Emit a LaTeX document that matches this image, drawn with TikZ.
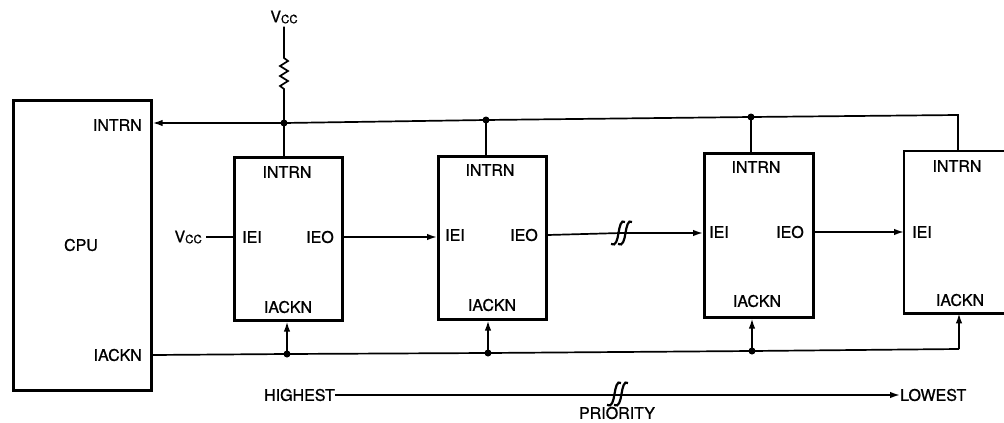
\documentclass[tikz,border=0pt]{standalone}
\usepackage{fontspec}
\setmainfont{TeX Gyre Heros}
\newfontfamily\lblfont{TeX Gyre Heros}[FakeBold=0.9]
\usetikzlibrary{arrows.meta}
\newcommand{\vccsym}{V\raisebox{-1pt}{\fontsize{11.5}{12}\selectfont CC}}
\begin{document}
\begin{tikzpicture}[x=1pt,y=-1pt,
  box/.style={draw, line width=2.6pt, inner sep=0pt, anchor=north west},
  boxline/.style={line width=2.6pt},
  lbl/.style={inner sep=0pt, font=\lblfont\fontsize{16}{18}\selectfont},
  wire/.style={line width=1.7pt},
  arr/.style={wire, -{Latex[length=10pt,width=6.5pt]}},
  dot/.style={circle, fill, inner sep=0pt, minimum size=7pt},
  brk/.pic={
    \draw[line width=2.2pt] (-10,11) .. controls (-5,14) and (-3.5,6) .. (-2.5,0) .. controls (-1.5,-6) and (0,-14) .. (4,-11);
    \draw[line width=2.2pt] (-3,11) .. controls (2,14) and (3.5,6) .. (4.5,0) .. controls (5.5,-6) and (7,-14) .. (11,-11);
  }]
\useasboundingbox (0,0) rectangle (1004,423);
\fill[white] (0,0) rectangle (1004,423);

% boxes
\node[box, minimum width=138pt, minimum height=290pt] (cpu) at (12,99) {};
\node[box, minimum width=108pt, minimum height=163pt] (b1) at (233,156) {};
\node[box, minimum width=108pt, minimum height=163pt] (b2) at (437,155) {};
\node[box, minimum width=109pt, minimum height=164pt] (b3) at (703,152) {};
\node[inner sep=0pt, anchor=north west, minimum width=100pt, minimum height=162pt] (b4) at (904,151) {};
\draw[boxline] (b4.north east) -- (b4.north west) -- (b4.south west) -- (b4.south east);

% labels
\node[lbl] (cpulbl) at (81,245) {CPU};
\node[lbl, anchor=east] (cpuint) at (142,125) {INTRN};
\node[lbl, anchor=east] (cpuiack) at (142,355) {IACKN};

\node[lbl] (b1int) at (287,172) {INTRN};
\node[lbl] (b1iei) at (252,237) {IEI};
\node[lbl] (b1ieo) at (320,237) {IEO};
\node[lbl] (b1iack) at (288,307) {IACKN};

\node[lbl] (b2int) at (490,170) {INTRN};
\node[lbl] (b2iei) at (455,235) {IEI};
\node[lbl] (b2ieo) at (524,235) {IEO};
\node[lbl] (b2iack) at (492,305) {IACKN};

\node[lbl] (b3int) at (756,167) {INTRN};
\node[lbl] (b3iei) at (719,232) {IEI};
\node[lbl] (b3ieo) at (790,232) {IEO};
\node[lbl] (b3iack) at (757,301) {IACKN};

\node[lbl] (b4int) at (957,166) {INTRN};
\node[lbl] (b4iei) at (922,232) {IEI};
\node[lbl] (b4iack) at (960,300) {IACKN};

% Vcc and resistor
\node[lbl] (vcctop) at (284,17) {\vccsym};
\coordinate (r1) at (284,58);
\coordinate (r2) at (284,89);
\coordinate (j1) at (284,123);
\coordinate (j2) at (486,120);
\coordinate (j3) at (751,117);
\coordinate (c4) at (958,115);
\draw[wire] (vcctop.south) ++(0,3) -- (r1) -- ++(4,3) -- ++(-8,5) -- ++(8,5) -- ++(-8,5) -- ++(8,5) -- ++(-8,5) -- (r2) -- (j1);

% INTRN bus
\draw[arr] (j1) -- (cpu.east |- j1);
\draw[wire] (j1) -- (j2) -- (j3) -- (c4) -- (c4 |- b4.north);
\draw[wire] (j1) -- (j1 |- b1.north);
\draw[wire] (j2) -- (j2 |- b2.north);
\draw[wire] (j3) -- (j3 |- b3.north);
\node[dot] at (j1) {};
\node[dot] at (j2) {};
\node[dot] at (j3) {};

% Vcc to IEI
\node[lbl, anchor=east] (vccin) at (202,237) {\vccsym};
\draw[wire] (vccin.east) ++(4,0) -- (b1.west |- vccin);

% daisy chain
\draw[arr] (b1.east |- b1ieo) -- (b2.west |- b1ieo);
\coordinate (brk1) at (621,233);
\draw[wire] (b2.east |- b2ieo) -- (brk1);
\draw[arr] (brk1) -- (b3.west |- brk1);
\pic at (brk1) {brk};
\draw[arr] (b3.east |- b3ieo) -- (b4.west |- b3ieo);

% IACKN bus
\coordinate (k1) at (287,354);
\coordinate (k2) at (488,353);
\coordinate (k3) at (752,351);
\coordinate (k4) at (959,349);
\draw[wire] (cpu.east |- cpuiack) -- (k1) -- (k2) -- (k3) -- (k4);
\draw[arr] (k1) -- (k1 |- b1.south);
\draw[arr] (k2) -- (k2 |- b2.south);
\draw[arr] (k3) -- (k3 |- b3.south);
\draw[arr] (k4) -- (k4 |- b4.south);
\node[dot] at (k1) {};
\node[dot] at (k2) {};
\node[dot] at (k3) {};

% priority
\node[lbl, anchor=east] (hi) at (335,395) {HIGHEST};
\node[lbl, anchor=west] (lo) at (900,395) {LOWEST};
\draw[arr] (hi.east) -- (lo.west);
\coordinate (brk2) at (617,394);
\pic at (brk2) {brk};
\node[lbl] (prio) at (617,413) {PRIORITY};
\end{tikzpicture}
\end{document}
